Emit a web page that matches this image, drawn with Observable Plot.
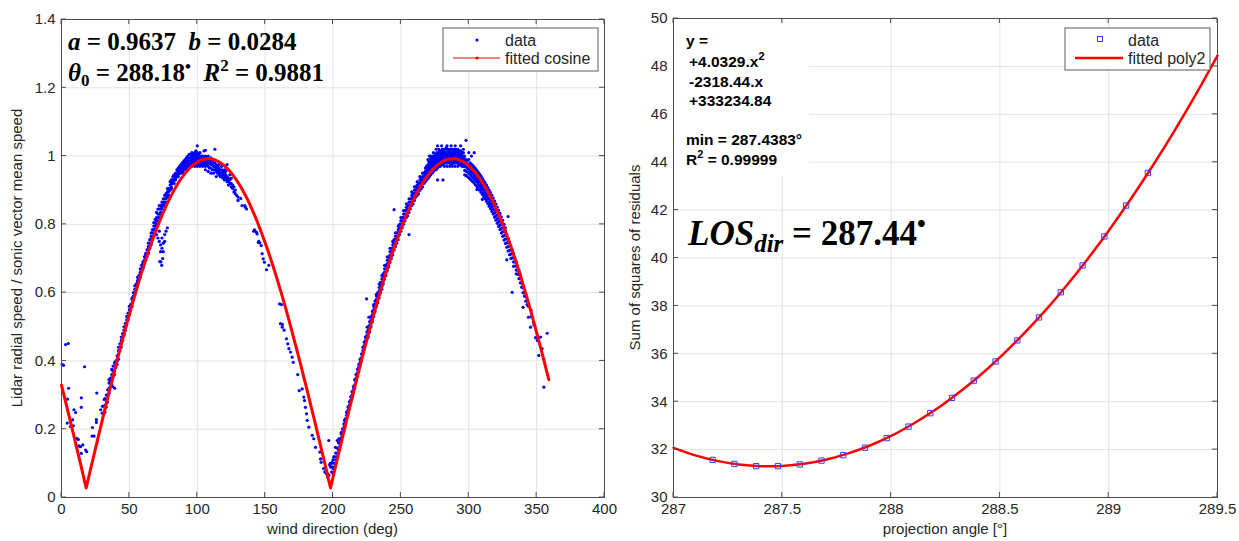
<!DOCTYPE html>
<html><head><meta charset="utf-8">
<script src="https://cdn.jsdelivr.net/npm/d3@7"></script>
<script src="https://cdn.jsdelivr.net/npm/@observablehq/plot@0.6"></script>
<style>
body{margin:0;background:#fff;}
#wrap{display:flex;width:1239px;height:541px;overflow:hidden;}
#wrap svg{flex:none;}
</style></head><body><div id="wrap"></div>
<script>
// ---------------- LEFT PANEL DATA ----------------
const windTicks = [0, 50, 100, 150, 200, 250, 300, 350, 400];
const ratioTicks = [0, 0.2, 0.4, 0.6, 0.8, 1, 1.2, 1.4];

// sparse points at low wind directions
const lowScatter = [[0.5,.39],[1.5,.387],[3,.448],[5,.451],[5.2,.32],[4.4,.288],[4.2,.218],[6.7,.223],[8.2,.228],[6.7,.208],[8.7,.21],[9.2,.257],[10.4,.249],[11.1,.173],[12.4,.17],[12.9,.151],[14,.149],[14.6,.129],[15.7,.154],[14.6,.292],[14.6,.264],[17,.383],[17.8,.139],[18.6,.134],[22.8,.205],[25.7,.228],[25.7,.22],[22.5,.18],[24,.18],[26,.306],[28.9,.257],[30.2,.267],[31.4,.287],[31.4,.268],[30,.247],[35,.345],[36.3,.345],[37.8,.325],[39.2,.32]];

// first hump, rising side (angle, ratios)
const rise1 = [[32,[.27,.25,.29]],[33,[.28,.30,.265]],[34,[.30,.29,.315,.28]],[35,[.32,.305,.335]],[36,[.34,.325,.35]],[37,[.345,.36,.33,.375]],[38,[.37,.355,.385]],[39,[.385,.37,.36,.395]],[40,[.40,.385,.39,.38]],[41,[.40,.415,.39]],[42,[.43,.42,.405,.44]],[43,[.44,.43,.45]],[44,[.46,.45,.47,.44]],[45,[.47,.46,.48]],[46,[.49,.48,.475,.50]],[47,[.50,.49,.51]],[48,[.52,.51,.505,.53]],[49,[.53,.52,.54]],[50,[.55,.54,.535,.56]],[51,[.56,.55,.565]],[52,[.58,.57,.56,.585]],[53,[.59,.58,.60]],[54,[.60,.61,.595,.62]],[55,[.62,.61,.625]],[56,[.635,.62,.645,.63]],[57,[.64,.65,.635]],[58,[.66,.655,.67,.645]],[59,[.67,.665,.68]],[60,[.685,.675,.67,.69]],[61,[.695,.685,.705]],[62,[.70,.71,.695,.715]],[63,[.715,.705,.725]],[64,[.73,.725,.715,.735,.745]],[65,[.745,.735,.755,.73]],[66,[.755,.765,.745,.775,.74]],[67,[.765,.775,.785,.76]],[68,[.785,.795,.775,.805,.765]],[69,[.795,.805,.815,.785]],[70,[.81,.82,.80,.835,.795,.77]],[71,[.82,.83,.845,.81,.76]],[72,[.83,.845,.82,.855,.81,.75,.78]],[73,[.845,.855,.835,.83,.74,.72]],[74,[.855,.845,.865,.85,.76,.73]],[75,[.865,.855,.875,.86,.745,.72]],[76,[.875,.865,.885,.855,.77,.75]],[77,[.885,.875,.89,.865,.78]],[78,[.895,.885,.88,.905,.79]],[79,[.905,.895,.90,.885]],[80,[.915,.905,.90,.925]],[81,[.92,.91,.93,.905]],[82,[.93,.92,.94,.925]],[83,[.94,.93,.945,.92]],[84,[.945,.935,.95,.93]],[85,[.95,.94,.96,.945]],[86,[.955,.945,.965,.94]],[87,[.96,.95,.97,.955]],[88,[.965,.955,.975,.95]],[89,[.97,.96,.98,.955]],[90,[.975,.965,.985,.96,.95]],[91,[.98,.97,.965,.99]],[92,[.985,.975,.995,.965,.96]],[93,[.99,.98,.97,1.0]],[94,[.995,.985,.975,.965,1.005]],[95,[.995,.985,.975,1.005]],[96,[1.0,.99,.98,.97,1.01]],[97,[1.005,.995,.985,.975]],[98,[1.0,.99,.98,1.01,.97]],[99,[1.005,.995,.985,.975,1.015]]];
const extra1 = [[73.3,.69],[73.8,.68],[72.4,.691],[74.5,.70]];

// first hump, top and start of descent
const top1 = [[100,[1.0,.99,.98,1.01,.97,1.03]],[101,[.995,.985,.975,1.005]],[102,[1.0,.99,.98,.97,1.01]],[103,[.995,.985,.975,1.0]],[104,[1.0,.99,.98,.97]],[105,[.995,.985,.975,1.015]],[106,[.99,.98,.97,1.0,.96,1.017]],[107,[.995,.985,.975]],[108,[.99,.98,.97,1.0,.955]],[109,[.99,.98,.965]],[110,[.985,.975,.965,.995,.95]],[111,[.985,.975,.96]],[112,[.98,.97,.96,.99,.95]],[113,[.98,.97,.96,1.02]],[114,[.975,.965,.955,.94]],[115,[.97,.96,.95]],[116,[.965,.955,.945,.975]],[117,[.96,.95,.94]],[118,[.96,.95,.94,.97]],[119,[.955,.945,.935]],[120,[.95,.94,.96,.93]],[121,[.945,.935,.955]],[122,[.94,.93,.975,.925]],[123,[.935,.925,.915]],[124,[.93,.92,.945]],[125,[.92,.91,.935]],[126,[.915,.905]],[127,[.91,.895]],[128,[.90,.89]],[129,[.885]],[130,[.88,.87]]];

// first descent, valley near 198 deg and early second rise (sparse)
const fall1 = [[132,.876],[133,.855],[135,.855],[135.5,.85],[136.3,.845],[141.6,.78],[142.2,.784],[143.6,.777],[144.1,.772],[145,.747],[145.3,.75],[146,.746],[147.1,.738],[147.8,.714],[148.6,.699],[149.5,.689],[151,.667],[152.7,.68],[160.6,.567],[161.3,.509],[162,.565],[162.6,.499],[162.7,.507],[164,.49],[165.7,.465],[166.7,.45],[167.5,.436],[168.7,.426],[169.9,.411],[170.7,.396],[174,.36],[175.1,.313],[177.3,.318],[178.5,.294],[179,.284],[179.7,.264],[180.5,.245],[181,.226],[182.2,.206],[184.7,.182],[185.8,.172],[187.1,.147],[190.3,.133],[190.8,.113],[191.3,.103],[193,.085],[194,.075],[194.5,.089],[195,.07],[195.2,.079],[196,.06],[196.2,.069],[196.9,.167],[197,.065],[197.5,.095],[198,.1],[198.2,.089],[199.4,.103],[200.6,.118],[201.8,.147],[203.1,.167],[204.3,.172],[206,.186],[207.5,.201],[208.5,.226],[210.5,.245],[211.6,.26],[212.9,.279],[214.1,.294],[215.3,.323],[216.6,.343],[217.8,.362],[219,.382],[220.3,.401],[221.5,.421],[222.7,.44],[223.9,.47],[225.2,.499],[226.4,.528],[224.7,.582]];

// second rise, dense band
const rise2 = [[199,[.09,.10,.075]],[200,[.085,.11,.07]],[201,[.10,.12,.09]],[202,[.11,.13,.10]],[203,[.13,.145,.12]],[204,[.14,.16,.13]],[205,[.16,.17,.15]],[206,[.175,.19,.165]],[207,[.19,.20,.18]],[208,[.205,.215,.195]],[209,[.22,.23,.21]],[210,[.24,.25,.23]],[211,[.255,.265,.245]],[212,[.27,.28,.26]],[213,[.285,.295,.275]],[214,[.30,.31,.29]],[215,[.315,.325,.305]],[216,[.33,.345,.32]],[217,[.35,.36,.34]],[218,[.365,.375,.355]],[219,[.38,.39,.37]],[220,[.395,.405,.385]],[221,[.41,.42,.40]],[222,[.43,.44,.42]],[223,[.445,.455,.435]],[224,[.46,.47,.45]],[225,[.475,.485,.465]],
[226,[.49,.48,.50,.47]],[227,[.505,.495,.515,.485]],[228,[.52,.51,.53,.50]],[229,[.535,.525,.545,.515]],[230,[.55,.54,.56,.53,.565]],[231,[.565,.555,.575,.545]],[232,[.58,.57,.59,.56,.595]],[233,[.59,.58,.60,.57]],[234,[.605,.595,.615,.585,.625]],[235,[.62,.61,.63,.60]],[236,[.63,.62,.64,.61,.65]],[237,[.645,.635,.655,.625]],[238,[.66,.65,.67,.64,.68]],[239,[.67,.66,.68,.65]],[240,[.685,.675,.695,.665,.705]],[241,[.695,.685,.705,.675]],[242,[.71,.70,.72,.69,.73]],[243,[.72,.71,.73,.70]],[244,[.73,.72,.74,.71,.75]],[245,[.745,.735,.755,.725,.843]],[246,[.755,.745,.765,.735,.775]],[247,[.765,.755,.775,.745]],[248,[.775,.765,.785,.755,.795]],[249,[.79,.78,.80,.77]],[250,[.80,.79,.81,.78,.82]],[251,[.81,.80,.82,.79]],[252,[.82,.81,.83,.80,.84]],[253,[.83,.82,.84,.81]],[254,[.84,.83,.85,.82,.86]],[255,[.845,.835,.855,.825]],[256,[.855,.845,.865,.835,.875,.77]],[257,[.865,.855,.875,.845]],[258,[.875,.865,.885,.855,.895]],[259,[.88,.87,.89,.86]],[260,[.89,.88,.90,.87,.91]],[261,[.90,.89,.91,.88]],[262,[.905,.895,.915,.885,.925]],[263,[.91,.90,.92,.89]],[264,[.92,.91,.93,.90,.94]],[265,[.925,.915,.935,.905]],[266,[.93,.92,.94,.91,.95]],[267,[.94,.93,.95,.92]],[268,[.945,.935,.955,.925,.965]],[269,[.95,.94,.96,.93,.97]]];

// second hump, top
const top2 = [[270,[.955,.945,.965,.935,.975,.99]],[270.5,[.96,.95,.985]],[271,[.96,.95,.97,.94,.98,1.0]],[271.5,[.965,.975,.99]],[272,[.965,.955,.975,.945,.985,1.0]],[272.5,[.97,.96,.995]],[273,[.97,.96,.98,.95,.99]],[273.5,[.975,.985,1.0]],[274,[.975,.965,.985,.955,.995,1.01]],[274.5,[.98,.97,.99]],[275,[.98,.97,.99,.96,1.0]],[275.5,[.985,.995,1.005]],[276,[.98,.97,.99,.96,1.0,1.02]],[276.5,[.985,.975,1.01]],[277,[.985,.975,.995,.965,1.005,1.03,.93]],[277.5,[.99,1.0,.98]],[278,[.99,.98,1.0,.97,1.01,1.02]],[278.5,[.995,.985,1.015]],[279,[.99,.98,1.0,.97,1.01]],[279.5,[.995,1.005,.975]],[280,[.995,.985,1.005,.975,1.015,1.03]],[280.5,[1.0,.99,1.02]],[281,[.995,.985,1.005,.975,1.015,.93]],[281.5,[1.0,.99,1.01]],[282,[1.0,.99,1.01,.98,1.02,.97]],[282.5,[1.005,.995,.985]],[283,[1.0,.99,1.01,.98,1.02]],[283.5,[1.005,.995,1.025]],[284,[1.0,.99,1.01,.98,1.02,1.03,.97]],[284.5,[1.005,.995,.985]],[285,[1.0,.99,1.01,.98,1.02]],[285.5,[1.005,.995,1.015]],[286,[1.0,.99,1.01,.98,1.02,.97]],[286.5,[1.005,.995,.985]],[287,[1.0,.99,1.01,.98,1.02,1.03]],[287.5,[1.005,.995,.975]],[288,[1.0,.99,1.01,.98,1.02,.97]],[288.5,[1.005,.995,1.015]],[289,[1.0,.99,1.01,.98,1.02]],[289.5,[1.005,.995,.985]],[290,[1.0,.99,1.01,.98,1.02,1.03,.97]],[290.5,[1.005,.995,1.015]],[291,[1.0,.99,1.01,.98,1.02]],[291.5,[1.005,.995,.985]],[292,[1.0,.99,1.01,.98,1.02,.97]],[292.5,[1.0,.99,1.01]],[293,[.995,.985,1.005,.975,1.015]],[293.5,[1.0,.99,.98]],[294,[.995,.985,1.005,.975,1.015,1.03]],[294.5,[.995,.985,1.005]],[295,[.99,.98,1.0,.97,1.01]],[295.5,[.995,.985,.975]],[296,[.99,.98,1.0,.97,1.01,1.02]],[296.5,[.985,.995,.975]]];

// second hump, descent
const fall2 = [[297,[.97,.958,.982,.945,1.0]],[298,[.968,.956,.98,.943,1.046,.99]],[299,[.965,.953,.977,.94,.987]],[300,[.962,.95,.974,.937,.99,1.01]],[301,[.958,.946,.97,.933,.98]],[302,[.954,.942,.966,.929,.976,1.0]],[303,[.95,.938,.962,.925,.972]],[304,[.946,.934,.958,.921,.968,1.01]],[305,[.941,.929,.953,.916,.963]],[306,[.936,.924,.948,.911,.958,.902]],[307,[.93,.918,.942,.905,.952]],[308,[.925,.913,.937,.90,.947]],[309,[.919,.907,.931,.894,.941]],[310,[.913,.901,.925,.888,.935,.873]],[311,[.906,.894,.918,.881,.928]],[312,[.90,.888,.912,.875,.922]],[313,[.893,.881,.905,.868,.915]],[314,[.886,.874,.898,.861,.908]],[315,[.878,.866,.89,.853,.90]],[316,[.871,.859,.883,.846,.893]],[317,[.863,.851,.875,.838,.885]],[318,[.855,.843,.867,.83,.877]],[319,[.846,.834,.858,.821,.868]],[320,[.837,.825,.849,.812,.859]],[321,[.828,.816,.84,.803,.85]],[322,[.819,.807,.831,.794,.841]],[323,[.81,.798,.822,.785,.832]],[324,[.80,.788,.812,.775,.822]],[325,[.79,.778,.802,.765,.812]],[326,[.779,.767,.791,.754,.80]],[327,[.769,.757,.781,.744,.79]],[328,[.758,.746,.77,.733,.696]],[329,[.747,.735,.759,.722,.823]],[330,[.736,.724,.748,.711]],[331,[.725,.713,.737,.70]],[332,[.714,.702,.726,.601]],[333,[.702,.69,.714,.677]],[334,[.69,.678,.702]],[335,[.678,.666,.69,.655]],[336,[.666,.654,.678]],[337,[.653,.641,.665]],[338,[.641,.629,.653]],[339,[.628,.616]],[340,[.614,.60,.557]],[341,[.60,.59]],[342,[.588,.575]],[343,[.577,.565]],[344,[.56,.528]]];
const tail2 = [[346,.548],[346,.53],[345.5,.499],[347.7,.513],[348,.505],[349.2,.468],[350.5,.46],[351.6,.416],[352.9,.47],[354,.436],[355.3,.406],[355.3,.323],[357.8,.481]];

// fitted cosine (angle, ratio)
const fitCosine = [[0,.329],[2,.297],[4,.264],[6,.232],[8,.199],[10,.166],[12,.132],[14,.099],[16,.065],[18,.031],[18.18,.028],[20,.059],[22,.093],[24,.126],[26,.159],[28,.193],[30,.226],[32,.259],[34,.291],[36,.323],[38,.355],[40,.387],[42,.418],[44,.448],[46,.478],[48,.508],[50,.536],[52,.565],[54,.592],[56,.619],[58,.646],[60,.671],[62,.696],[64,.720],[66,.743],[68,.765],[70,.786],[72,.806],[74,.826],[76,.844],[78,.862],[80,.878],[82,.893],[84,.908],[86,.921],[88,.933],[90,.944],[92,.954],[94,.963],[96,.971],[98,.977],[100,.982],[102,.987],[104,.990],[106,.991],[108,.992],[110,.992],[112,.990],[114,.987],[116,.983],[118,.978],[120,.972],[122,.964],[124,.956],[126,.946],[128,.935],[130,.923],[132,.910],[134,.896],[136,.881],[138,.865],[140,.847],[142,.829],[144,.810],[146,.789],[148,.768],[150,.746],[152,.724],[154,.700],[156,.676],[158,.651],[160,.624],[162,.598],[164,.570],[166,.542],[168,.513],[170,.483],[172,.453],[174,.423],[176,.392],[178,.360],[180,.329],
[182,.297],[184,.264],[186,.232],[188,.199],[190,.166],[192,.132],[194,.099],[196,.065],[198,.031],[198.18,.028],[200,.059],[202,.093],[204,.126],[206,.159],[208,.193],[210,.226],[212,.259],[214,.291],[216,.323],[218,.355],[220,.387],[222,.418],[224,.448],[226,.478],[228,.508],[230,.536],[232,.565],[234,.592],[236,.619],[238,.646],[240,.671],[242,.696],[244,.720],[246,.743],[248,.765],[250,.786],[252,.806],[254,.826],[256,.844],[258,.862],[260,.878],[262,.893],[264,.908],[266,.921],[268,.933],[270,.944],[272,.954],[274,.963],[276,.971],[278,.977],[280,.982],[282,.987],[284,.990],[286,.991],[288,.992],[290,.992],[292,.990],[294,.987],[296,.983],[298,.978],[300,.972],[302,.964],[304,.956],[306,.946],[308,.935],[310,.923],[312,.910],[314,.896],[316,.881],[318,.865],[320,.847],[322,.829],[324,.810],[326,.789],[328,.768],[330,.746],[332,.724],[334,.700],[336,.676],[338,.651],[340,.624],[342,.598],[344,.570],[346,.542],[348,.513],[350,.483],[352,.453],[354,.423],[356,.392],[358,.360],[359,.345]];

// ---------------- RIGHT PANEL DATA ----------------
const angleTicks = [287, 287.5, 288, 288.5, 289, 289.5];
const ssrTicks = [30, 32, 34, 36, 38, 40, 42, 44, 46, 48, 50];
const projAngle = [287.18,287.28,287.38,287.48,287.58,287.68,287.78,287.88,287.98,288.08,288.18,288.28,288.38,288.48,288.58,288.68,288.78,288.88,288.98,289.08,289.18];
const ssrValue  = [31.57,31.40,31.31,31.31,31.38,31.54,31.77,32.08,32.48,32.96,33.52,34.16,34.88,35.68,36.56,37.52,38.57,39.69,40.90,42.19,43.55];
const polyAngle = [287.0,287.1,287.2,287.3,287.4,287.5,287.6,287.7,287.8,287.9,288.0,288.1,288.2,288.3,288.4,288.5,288.6,288.7,288.8,288.9,289.0,289.1,289.2,289.3,289.4,289.5];
const polyValue = [32.07,31.76,31.53,31.38,31.31,31.32,31.41,31.58,31.83,32.16,32.57,33.07,33.64,34.30,35.03,35.85,36.75,37.72,38.78,39.92,41.14,42.44,43.82,45.28,46.82,48.45];

// ---------------- BUILD ----------------
const flat = rows => rows.flatMap(([x, ys]) => ys.map(y => ({x, y})));
const pts = arr => arr.map(([x, y]) => ({x, y}));
const scatter = [...pts(lowScatter), ...flat(rise1), ...pts(extra1), ...flat(top1), ...pts(fall1), ...flat(rise2), ...flat(top2), ...flat(fall2), ...pts(tail2)];
const fitData = pts(fitCosine);
const resid = projAngle.map((x, i) => ({x, y: ssrValue[i]}));
const poly = polyAngle.map((x, i) => ({x, y: polyValue[i]}));

const AX = "#4d4d4d", GRID = "#e2e2e2", TXT = "#262626";
const baseStyle = {fontFamily: "'Liberation Sans', Arial, sans-serif", fontSize: "15px", color: TXT, background: "white", overflow: "visible"};
const fmt = d => String(d);

const left = Plot.plot({
  width: 620, height: 541, marginLeft: 61, marginRight: 16, marginTop: 19, marginBottom: 44,
  style: baseStyle,
  x: {domain: [0, 400]}, y: {domain: [0, 1.4]},
  marks: [
    Plot.gridX(windTicks, {stroke: GRID, strokeOpacity: 1}),
    Plot.gridY(ratioTicks, {stroke: GRID, strokeOpacity: 1}),
    Plot.dot(scatter, {x: "x", y: "y", r: 1.6, fill: "#0000ff", stroke: null}),
    Plot.line(fitData, {x: "x", y: "y", stroke: "#ff0000", strokeWidth: 3}),
    Plot.frame({stroke: AX}),
    Plot.axisX(windTicks, {tickSize: 0, tickPadding: 6, label: null, tickFormat: fmt, fill: TXT}),
    Plot.axisY(ratioTicks, {tickSize: 0, tickPadding: 6, label: null, tickFormat: fmt, fill: TXT})
  ]
});

const right = Plot.plot({
  width: 619, height: 541, marginLeft: 53, marginRight: 22, marginTop: 18, marginBottom: 44,
  style: baseStyle,
  x: {domain: [287, 289.5]}, y: {domain: [30, 50]},
  marks: [
    Plot.gridX(angleTicks, {stroke: GRID, strokeOpacity: 1}),
    Plot.gridY(ssrTicks, {stroke: GRID, strokeOpacity: 1}),
    Plot.line(poly, {x: "x", y: "y", stroke: "#ff0000", strokeWidth: 2.5, curve: "catmull-rom"}),
    Plot.dot(resid, {x: "x", y: "y", symbol: "square", r: 3, stroke: "#3b3bff", fill: "none", strokeWidth: 1}),
    Plot.frame({stroke: AX}),
    Plot.axisX(angleTicks, {tickSize: 0, tickPadding: 6, label: null, tickFormat: fmt, fill: TXT}),
    Plot.axisY(ssrTicks, {tickSize: 0, tickPadding: 6, label: null, tickFormat: fmt, fill: TXT})
  ]
});

const wrap = document.getElementById("wrap");
wrap.append(left, right);

function innerTicks(svg, xt, yt) {
  const sx = svg.scale("x"), sy = svg.scale("y");
  const [xa, xb] = sx.range, [ya, yb] = sy.range;
  const g = d3.select(svg).append("g").attr("stroke", AX).attr("stroke-width", 1);
  for (const v of xt) {
    const p = sx.apply(v);
    g.append("line").attr("x1", p).attr("x2", p).attr("y1", ya).attr("y2", ya - 5);
    g.append("line").attr("x1", p).attr("x2", p).attr("y1", yb).attr("y2", yb + 5);
  }
  for (const v of yt) {
    const p = sy.apply(v);
    g.append("line").attr("y1", p).attr("y2", p).attr("x1", xa).attr("x2", xa + 5);
    g.append("line").attr("y1", p).attr("y2", p).attr("x1", xb).attr("x2", xb - 5);
  }
  return {xa, xb, ya, yb};
}
const fl = innerTicks(left, windTicks, ratioTicks);
const fr = innerTicks(right, angleTicks, ssrTicks);

function axisLabels(svg, f, xLabel, yLabel, yLabX) {
  const s = d3.select(svg);
  s.append("text").attr("x", (f.xa + f.xb) / 2).attr("y", 534).attr("text-anchor", "middle")
    .attr("fill", TXT).style("font", "15px 'Liberation Sans', Arial, sans-serif").text(xLabel);
  s.append("text").attr("transform", `translate(${yLabX},${(f.ya + f.yb) / 2}) rotate(-90)`).attr("text-anchor", "middle")
    .attr("fill", TXT).style("font", "15px 'Liberation Sans', Arial, sans-serif").text(yLabel);
}
axisLabels(left, fl, "wind direction (deg)", "Lidar radial speed / sonic vector mean speed", 22);
axisLabels(right, fr, "projection angle [°]", "Sum of squares of residuals", 20);

// ---- legends ----
function legendBox(svg, x0, y0, w, h) {
  const g = d3.select(svg).append("g").attr("text-anchor", "start");
  g.append("rect").attr("x", x0).attr("y", y0).attr("width", w).attr("height", h)
    .attr("fill", "white").attr("stroke", "#5a5a5a").attr("stroke-width", 1);
  return g;
}
const LF = "16px 'Liberation Sans', Arial, sans-serif";
{
  const g = legendBox(left, 443, 28, 155, 43);
  g.append("circle").attr("cx", 477).attr("cy", 40).attr("r", 1.6).attr("fill", "#0000ff");
  g.append("line").attr("x1", 453).attr("x2", 500).attr("y1", 58).attr("y2", 58).attr("stroke", "#ff0000").attr("stroke-width", 1);
  g.append("circle").attr("cx", 477).attr("cy", 58).attr("r", 1.6).attr("fill", "#ff0000");
  g.append("text").attr("x", 505).attr("y", 45.5).attr("text-anchor", "start").attr("fill", TXT).style("font", LF).text("data");
  g.append("text").attr("x", 505).attr("y", 64).attr("text-anchor", "start").attr("fill", TXT).style("font", LF).text("fitted cosine");
}
{
  const g = legendBox(right, 445, 28, 145, 42);
  g.append("rect").attr("x", 477.5).attr("y", 36.5).attr("width", 5).attr("height", 5).attr("fill", "none").attr("stroke", "#3b3bff");
  g.append("line").attr("x1", 455).attr("x2", 503).attr("y1", 58).attr("y2", 58).attr("stroke", "#ff0000").attr("stroke-width", 2.5);
  g.append("text").attr("x", 508).attr("y", 45.5).attr("text-anchor", "start").attr("fill", TXT).style("font", LF).text("data");
  g.append("text").attr("x", 508).attr("y", 64).attr("text-anchor", "start").attr("fill", TXT).style("font", LF).text("fitted poly2");
}

// ---- annotations ----
const SERIF = "'Liberation Serif', 'DejaVu Serif', serif";
function rich(svg, x, y, size, parts) {
  const t = d3.select(svg).append("text").attr("x", x).attr("y", y).attr("fill", "#000").attr("text-anchor", "start")
    .style("font-family", SERIF).style("font-weight", "bold").style("font-size", size + "px");
  for (const p of parts) {
    const sp = t.append("tspan").text(p.t);
    if (p.i) sp.style("font-style", "italic");
    if (p.s) sp.style("font-size", p.s + "px");
    if (p.dy) sp.attr("dy", p.dy);
  }
  return t;
}
rich(left, 68, 50, 25, [
  {t: "a", i: 1}, {t: " = 0.9637  "}, {t: "b", i: 1}, {t: " = 0.0284"}
]);
rich(left, 68, 81, 25, [
  {t: "θ", i: 1}, {t: "0", s: 17, dy: 5}, {t: " = 288.18", dy: -5}, {t: "•", s: 17, dy: -9}, {t: "  ", dy: 9},
  {t: "R", i: 1}, {t: "2", s: 17, dy: -10}, {t: " = 0.9881", dy: 10}
]);

// right annotation with white background
{
  const g = d3.select(right).append("g").attr("text-anchor", "start");
  const F = "bold 15.5px 'Liberation Sans', Arial, sans-serif";
  const lines = [
    [66, 46, [{t: "y ="}]],
    [69, 67, [{t: "+4.0329.x"}, {t: "2", s: 11, dy: -7}]],
    [69, 87, [{t: "-2318.44.x"}]],
    [69, 106, [{t: "+333234.84"}]],
    [66, 145, [{t: "min = 287.4383°"}]],
    [66, 165, [{t: "R"}, {t: "2", s: 11, dy: -7}, {t: " = 0.99999", dy: 7}]]
  ];
  const tg = g.append("g");
  for (const [x, y, parts] of lines) {
    const t = tg.append("text").attr("x", x).attr("y", y).attr("text-anchor", "start").attr("fill", "#000").style("font", F);
    for (const p of parts) {
      const sp = t.append("tspan").text(p.t);
      if (p.s) sp.style("font-size", p.s + "px");
      if (p.dy) sp.attr("dy", p.dy);
    }
  }
  const bb = tg.node().getBBox();
  g.insert("rect", ":first-child").attr("x", fr.xa + 1).attr("y", bb.y - 8)
    .attr("width", bb.x + bb.width + 6 - fr.xa).attr("height", bb.height + 16).attr("fill", "white");
}
rich(right, 68, 245, 35, [
  {t: "LOS", i: 1}, {t: "dir", i: 1, s: 25, dy: 7}, {t: " = 287.44", dy: -7}, {t: "•", s: 25, dy: -13}
]);
</script></body></html>
